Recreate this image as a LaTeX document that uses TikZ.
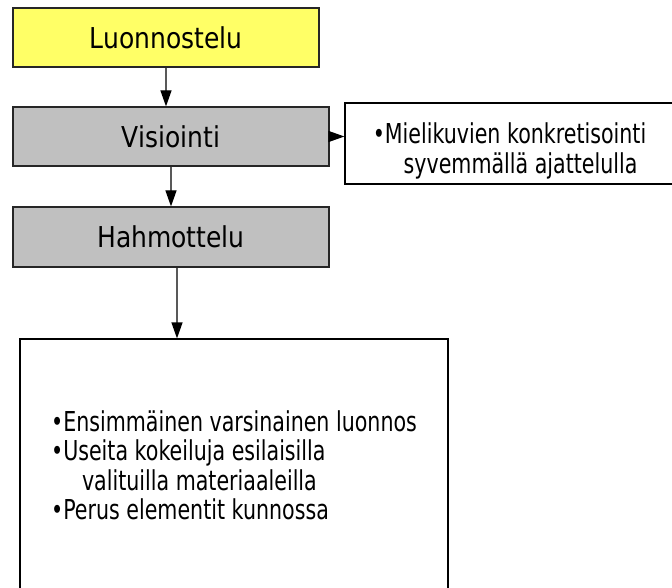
\documentclass[tikz,border=0pt]{standalone}
\usepackage{fontspec}
\usepackage{graphicx}
\setmainfont{DejaVu Sans}
\usetikzlibrary{arrows.meta}
\definecolor{luonyellow}{HTML}{FFFF66}
\definecolor{vaihegray}{HTML}{C0C0C0}
\newcommand{\korkea}[1]{\scalebox{1}[1.15]{#1}}
\newcommand{\luettelo}[1]{\scalebox{1}[1.33]{\begin{tabular}[t]{@{}l@{}}#1\end{tabular}}}
\tikzset{
  every picture/.style={x=1pt, y=-1pt, >={Triangle[length=16pt, width=11pt, color=black]}}}

\begin{document}
\begin{tikzpicture}
    \tikzstyle{vaihe}=[draw=black!85, line width=1.2pt, font=\fontsize{25}{30}\selectfont, inner sep=0pt]
    \tikzstyle{selite}=[draw=black, line width=1.2pt, fill=white,
      font=\fontsize{20.6}{21.6}\selectfont, inner sep=0pt]
    \tikzstyle{nuoli}=[->, draw=black!65, line width=1.2pt]

    \useasboundingbox (0, 0) rectangle (672, 588);

    \node[vaihe, fill=luonyellow, minimum width=306pt, minimum height=59pt] (L) at (166, 37.5) {\korkea{Luonnostelu}};
    \node[vaihe, fill=vaihegray, minimum width=316pt, minimum height=59pt] (V) at (171, 136.5) {\korkea{Visiointi}};
    \node[vaihe, fill=vaihegray, minimum width=316pt, minimum height=60pt] (H) at (171, 237) {\korkea{Hahmottelu}};

    \node[selite, text depth=20.5pt, minimum width=329pt, minimum height=81pt] (M) at (509.5, 143.5)
      {\luettelo{•Mielikuvien konkretisointi\\\hspace*{1.5em}syvemmällä ajattelulla}};
    \node[selite, text depth=88pt, minimum width=428pt, minimum height=252pt] (E) at (234, 465)
      {\luettelo{•Ensimmäinen varsinainen luonnos\\•Useita kokeiluja esilaisilla\\
       \hspace*{1.5em}valituilla materiaaleilla\\•Perus elementit kunnossa}};

    \draw[nuoli] (L.south) to (L.south |- V.north);
    \draw[nuoli] (V.south) to (H.north);
    \draw[nuoli] ([xshift=6pt]H.south) to ([xshift=6pt]H.south |- E.north);
    \draw[nuoli] (V.east) to (V.east -| M.west);
\end{tikzpicture}
\end{document}
